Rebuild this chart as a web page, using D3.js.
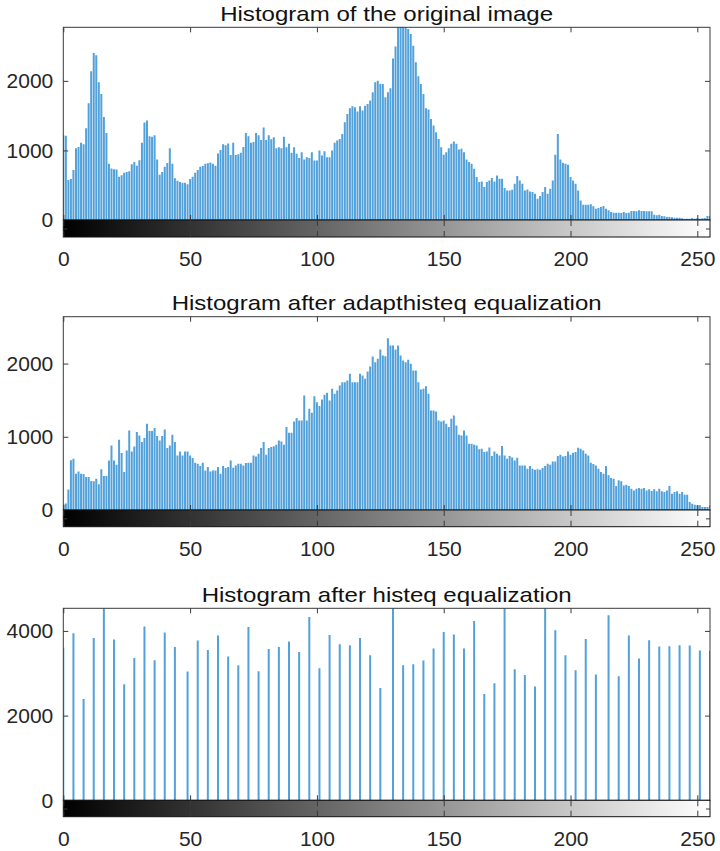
<!DOCTYPE html>
<html><head><meta charset="utf-8">
<script src="https://cdn.jsdelivr.net/npm/d3@7"></script>
<style>
body{margin:0;background:#fff}
text{font-family:"Liberation Sans",Arial,Helvetica,sans-serif;}
</style>
</head><body>
<svg id="chart" width="720" height="851"></svg>
<script>
// ---------- data ----------
const panelTitles = [
  "Histogram of the original image",
  "Histogram after adapthisteq equalization",
  "Histogram after histeq equalization"
];
const xTickValues = [0, 50, 100, 150, 200, 250];
const originalYTicks = [0, 1000, 2000];
const adaptYTicks = [0, 1000, 2000];
const histeqYTicks = [0, 2000, 4000];
const yLimits = [2770, 2640, 4534];

const grayLevels = d3.range(256);

const originalCounts = [
 1220,1210,575,590,720,1030,1050,1110,1090,1320,
 1680,2140,2400,2370,1980,1810,1480,1250,810,740,
 730,725,620,645,680,690,700,800,835,780,
 860,1110,1400,1430,1205,1195,1220,870,650,690,
 765,820,1030,810,600,565,545,535,535,515,
 590,620,680,720,765,775,810,815,825,810,
 780,955,1005,1090,1075,1100,935,1110,935,945,
 965,1050,1250,1205,1110,1120,1250,1220,1150,1330,
 1150,1220,1160,1190,1032,1045,1032,1195,1045,1095,
 965,1045,951,890,975,870,903,890,975,855,
 855,1000,927,990,903,903,1000,1109,1142,1166,
 1238,1405,1525,1606,1635,1620,1558,1635,1573,1644,
 1668,1716,1835,1979,2003,1955,1955,1764,1835,1893,
 2323,2495,2850,2950,3000,2900,2745,2672,2505,2266,
 2065,1955,1812,1606,1587,1453,1357,1262,1166,1047,
 937,975,1032,1095,1128,1095,1013,1023,975,870,
 832,808,736,617,545,555,473,545,569,605,
 555,640,593,593,459,425,425,435,521,631,
 569,521,425,440,411,402,378,306,344,402,
 473,378,449,569,937,1238,870,822,808,793,
 617,569,521,425,282,220,220,220,225,196,
 163,172,186,200,163,139,115,105,105,105,
 100,115,100,105,129,129,124,139,129,129,
 124,124,124,76,67,76,57,53,43,43,
 38,33,33,33,24,19,19,19,29,19,
 29,19,24,29,57,60
];

const adaptCounts = [
 80,90,280,680,700,496,527,496,491,450,
 450,396,391,427,350,555,464,464,677,882,
 677,618,959,778,518,814,1087,800,868,1064,
 1018,928,982,1178,1078,1078,1119,1009,950,1009,
 1100,846,882,1028,928,746,800,746,800,800,
 746,709,646,632,600,646,541,587,527,541,
 541,587,496,600,573,587,677,577,609,632,
 632,609,641,646,646,746,732,768,846,928,
 755,846,859,870,891,950,937,891,1132,1055,
 1055,1209,1255,1223,1223,1564,1223,1382,1328,1555,
 1473,1419,1510,1573,1601,1496,1655,1587,1632,1701,
 1746,1746,1769,1860,1746,1746,1746,1860,1837,1792,
 1892,1960,2096,2019,2064,2192,2110,2101,2346,2246,
 2246,2192,2246,2110,2042,2019,2051,1996,1905,1905,
 1746,1646,1655,1691,1587,1360,1360,1346,1223,1209,
 1223,1178,1132,1246,1291,1155,1028,1018,1087,1018,
 905,905,891,882,828,837,791,800,855,737,
 800,768,746,873,746,700,737,718,677,714,
 609,609,609,564,600,564,550,555,550,573,
 600,632,618,664,664,737,755,732,737,800,
 755,782,791,850,837,814,768,746,646,628,
 609,564,518,496,600,473,437,427,327,405,
 391,336,346,327,291,268,291,300,291,300,
 268,282,259,282,255,291,255,246,268,327,
 223,246,255,223,246,209,209,109,86,73,
 64,64,41,41,41,64
];

const histeqLevels = [
 0,4,8,12,16,20,24,28,32,36,40,44,49,53,57,61,65,69,73,77,81,85,89,93,97,101,105,109,113,117,121,125,
 130,134,138,142,146,150,154,158,162,166,170,174,178,182,186,190,194,198,202,206,210,215,219,223,227,231,235,239,243,247,251,255
];
const histeqCounts = [
 3610,3945,2394,3835,4650,3795,2740,3362,4102,3307,3961,3622,3039,3772,3551,3890,3394,3189,4094,3047,3575,3622,3748,3504,4331,3118,3906,3685,3661,3835,3425,2654,
 4700,3189,3213,3299,3583,3976,3913,3583,4236,2512,2764,4600,3094,2961,2685,4620,4016,3425,3071,3811,2969,4370,2929,3890,3346,3780,3630,3638,3661,3654,3535,3528
];

// ---------- layout ----------
const svg = d3.select("#chart");
const X0 = 63.3, X1 = 710;
const x = d3.scaleLinear().domain([0, 255]).range([X0, X1]);
const frames = [
  {top: 27.3, histBottom: 220, cbBottom: 237, titleWidth: 333},
  {top: 316.7, histBottom: 510, cbBottom: 526.7, titleWidth: 430},
  {top: 608.3, histBottom: 800.3, cbBottom: 816.7, titleWidth: 370}
];
const panels = [
  {levels: grayLevels, counts: originalCounts, yTicks: originalYTicks, yMax: yLimits[0], stemW: 2.0},
  {levels: grayLevels, counts: adaptCounts, yTicks: adaptYTicks, yMax: yLimits[1], stemW: 2.0},
  {levels: histeqLevels, counts: histeqCounts, yTicks: histeqYTicks, yMax: yLimits[2], stemW: 2.0}
];

const FONT = 21, TXT = "#262626", AX = "#3a3a3a";
const stemColor = "#52a1da";

// gradient for colorbar
const defs = svg.append("defs");
const grad = defs.append("linearGradient").attr("id", "gray")
  .attr("gradientUnits", "userSpaceOnUse")
  .attr("x1", x(0)).attr("x2", x(255)).attr("y1", 0).attr("y2", 0);
grad.append("stop").attr("offset", "0%").attr("stop-color", "#000");
grad.append("stop").attr("offset", "100%").attr("stop-color", "#fff");

panels.forEach((p, k) => {
  const f = frames[k];
  const y = d3.scaleLinear().domain([0, p.yMax]).range([f.histBottom, f.top]);
  const g = svg.append("g");

  defs.append("clipPath").attr("id", "clip" + k)
    .append("rect").attr("x", X0).attr("y", f.top)
    .attr("width", X1 - X0).attr("height", f.histBottom - f.top);

  // stems
  g.append("g").attr("clip-path", `url(#clip${k})`)
    .selectAll("line").data(p.levels.map((l, i) => ({l, v: p.counts[i]})))
    .join("line")
    .attr("x1", d => x(d.l)).attr("x2", d => x(d.l))
    .attr("y1", y(0)).attr("y2", d => y(d.v))
    .attr("stroke", stemColor).attr("stroke-width", p.stemW);

  // axes box
  g.append("rect").attr("x", X0).attr("y", f.top)
    .attr("width", X1 - X0).attr("height", f.histBottom - f.top)
    .attr("fill", "none").attr("stroke", AX).attr("stroke-width", 1);

  const styleAxis = sel => {
    sel.select(".domain").remove();
    sel.selectAll(".tick line").attr("stroke", AX);
    sel.selectAll("text").attr("fill", TXT).style("font-size", FONT + "px")
      .style("font-family", '"Liberation Sans",Arial,sans-serif');
  };
  // left with labels
  g.append("g").attr("transform", `translate(${X0},0)`)
    .call(d3.axisLeft(y).tickValues(p.yTicks).tickSize(-5).tickPadding(10).tickFormat(d3.format("d")))
    .call(styleAxis);
  // right ticks
  g.append("g").attr("transform", `translate(${X1},0)`)
    .call(d3.axisRight(y).tickValues(p.yTicks).tickSize(-5).tickFormat(""))
    .call(styleAxis);
  // top ticks
  g.append("g").attr("transform", `translate(0,${f.top})`)
    .call(d3.axisTop(x).tickValues(xTickValues).tickSize(-5).tickFormat(""))
    .call(styleAxis);
  // bottom ticks of histogram axes
  g.append("g").attr("transform", `translate(0,${f.histBottom})`)
    .call(d3.axisBottom(x).tickValues(xTickValues).tickSize(-5).tickFormat(""))
    .call(styleAxis);

  // colorbar
  const cbH = f.cbBottom - f.histBottom;
  g.append("rect").attr("x", X0).attr("y", f.histBottom)
    .attr("width", X1 - X0).attr("height", cbH)
    .attr("fill", "url(#gray)").attr("stroke", "#111").attr("stroke-width", 1);
  g.append("g").attr("transform", `translate(0,${f.histBottom})`)
    .call(d3.axisTop(x).tickValues(xTickValues).tickSize(-6).tickFormat(""))
    .call(styleAxis);
  g.append("g").attr("transform", `translate(0,${f.cbBottom})`)
    .call(d3.axisBottom(x).tickValues(xTickValues).tickSize(-6).tickPadding(14.5).tickFormat(d3.format("d")))
    .call(styleAxis);
  // colorbar side ticks
  const cbY = d3.scaleLinear().domain([0, 1]).range([f.cbBottom, f.histBottom]);
  g.append("g").attr("transform", `translate(${X0},0)`)
    .call(d3.axisLeft(cbY).tickValues([0.5]).tickSize(-4).tickFormat(""))
    .call(styleAxis);
  g.append("g").attr("transform", `translate(${X1},0)`)
    .call(d3.axisRight(cbY).tickValues([0.5]).tickSize(-4).tickFormat(""))
    .call(styleAxis);

  // title
  g.append("text").attr("x", (X0 + X1) / 2).attr("y", f.top - 6.5)
    .attr("text-anchor", "middle").attr("fill", "#111")
    .attr("textLength", f.titleWidth).attr("lengthAdjust", "spacingAndGlyphs")
    .style("font-size", "21px").text(panelTitles[k]);
});
</script>
</body></html>
